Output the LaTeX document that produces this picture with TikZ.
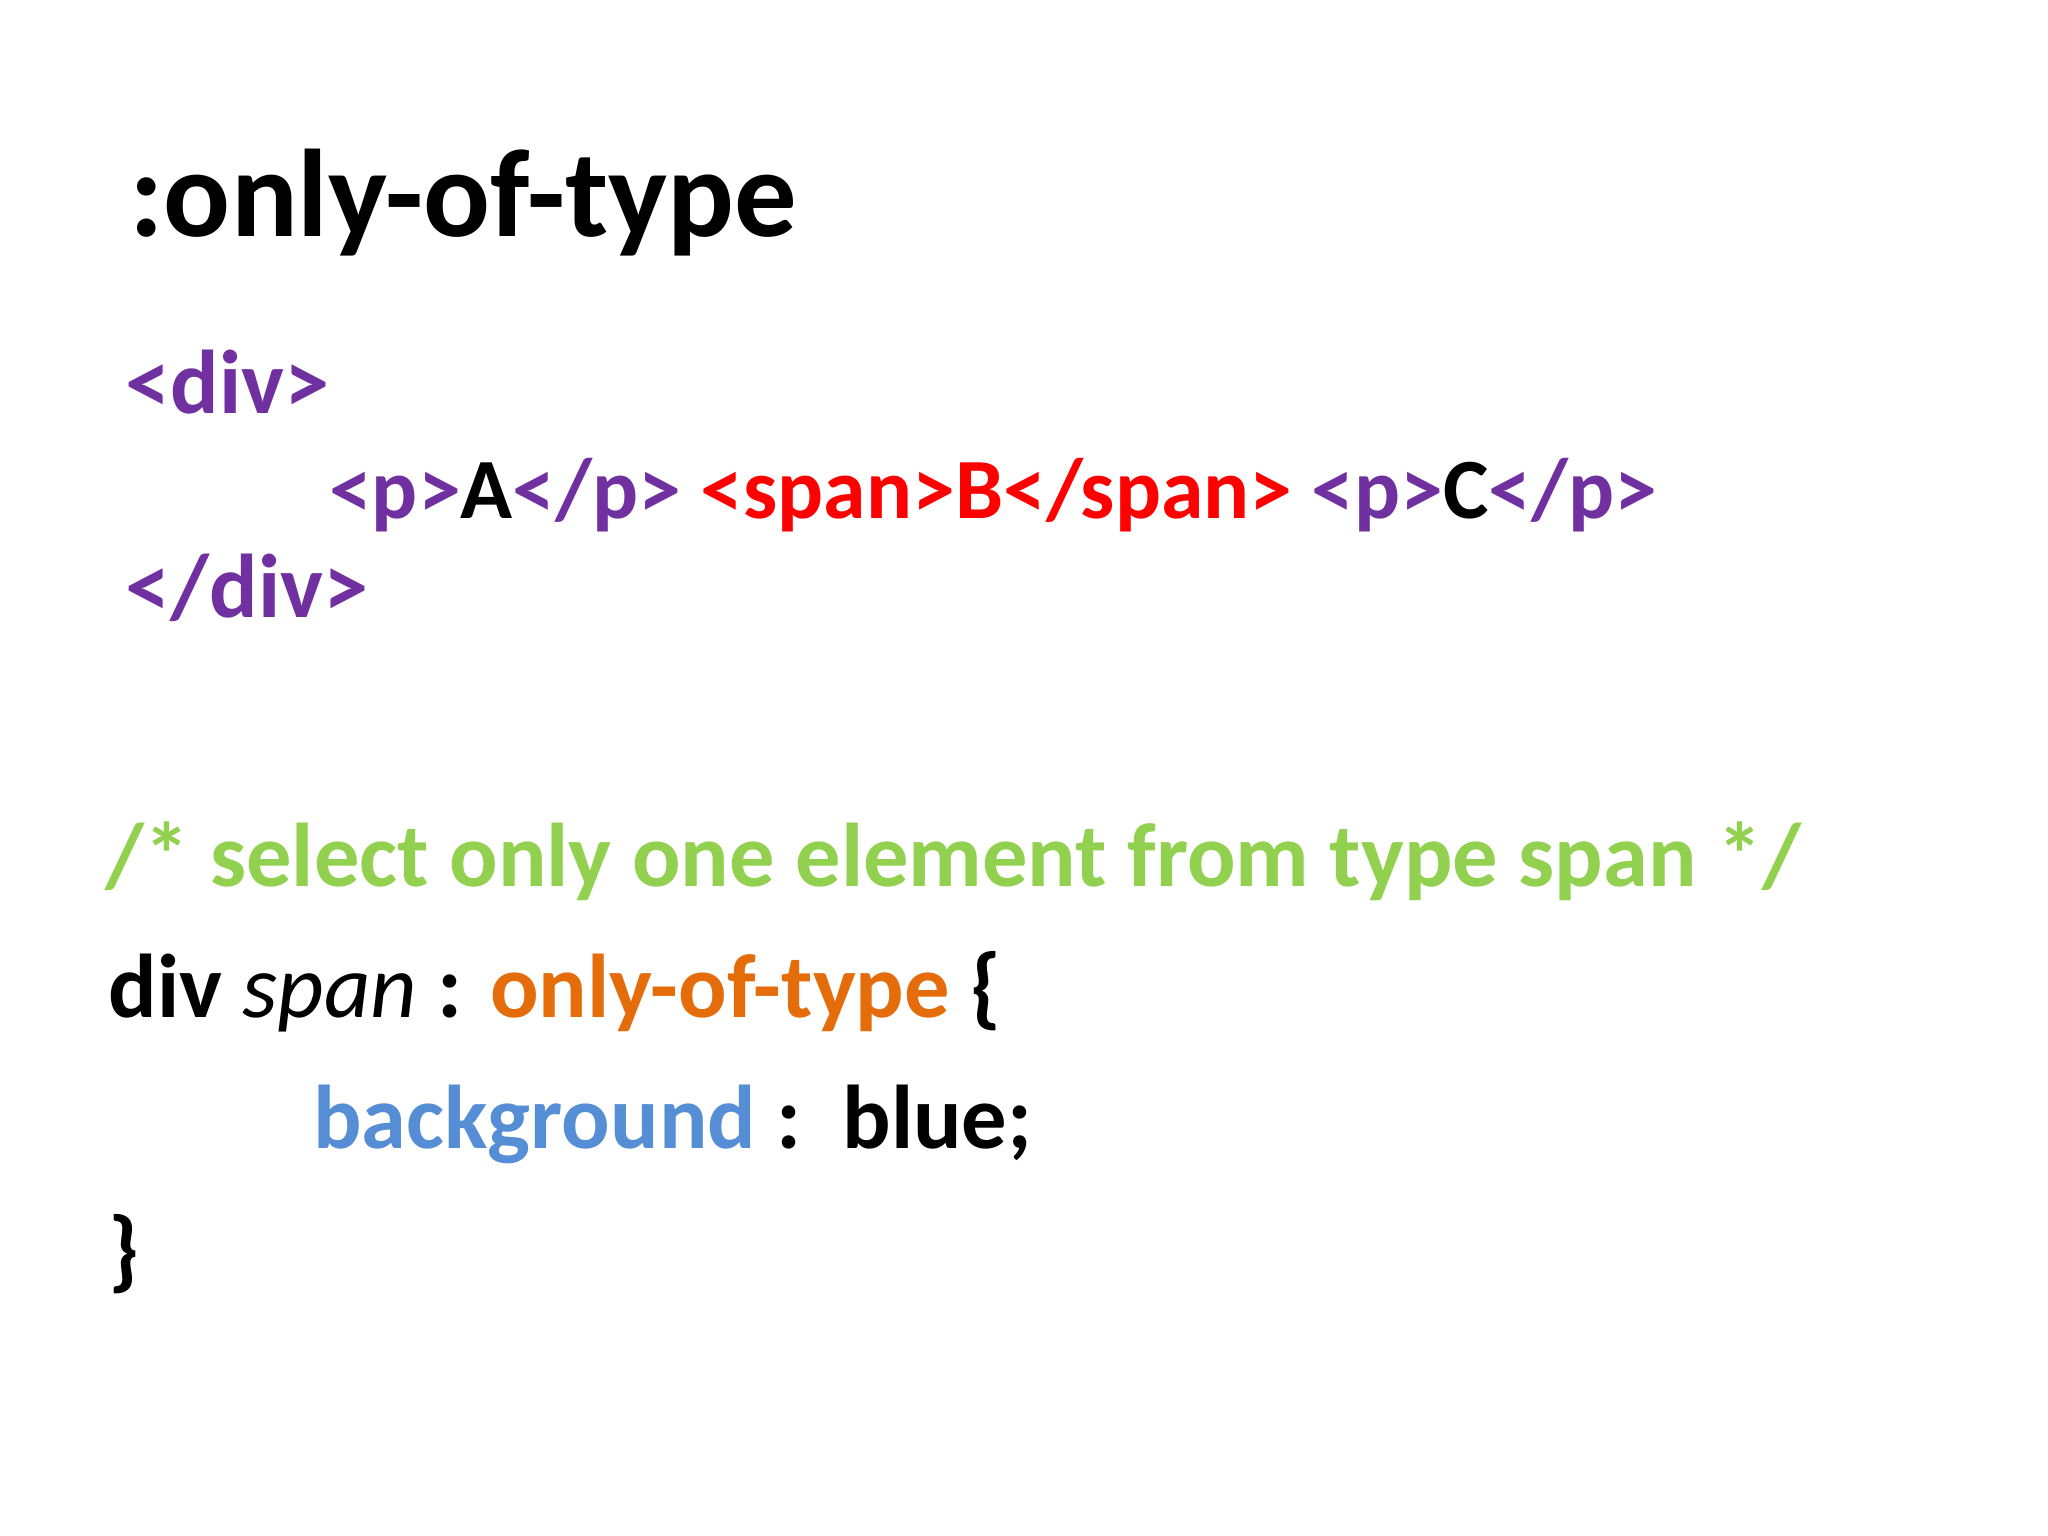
\documentclass[tikz,border=0pt]{standalone}
\usepackage{fontspec}
\setmainfont{Carlito}
\definecolor{tagpurple}{HTML}{7030A0}
\definecolor{tagred}{HTML}{FF0000}
\definecolor{cmtgreen}{HTML}{92D050}
\definecolor{selorange}{HTML}{E46C0A}
\definecolor{propblue}{HTML}{558ED5}
\begin{document}
\begin{tikzpicture}[x=0.01cm,y=-0.01cm,
  line/.style={anchor=base west,inner sep=0pt,font=\fontsize{19.6}{24}\selectfont\bfseries}]
\useasboundingbox[fill=white] (0,0) rectangle (1560,1170);
\node[anchor=base west,inner sep=0pt,font=\fontsize{27}{32}\selectfont\bfseries] (title) at (98,180) {:only-of-type};
\node[line,text=tagpurple] (divopen) at (95,315) {<div>};
\node[line,font=\fontsize{18.6}{22}\selectfont\bfseries] (pline) at (250,395) {\textcolor{tagpurple}{<p>}A\textcolor{tagpurple}{</p>} \textcolor{tagred}{<span>B</span>} \textcolor{tagpurple}{<p>}C\textcolor{tagpurple}{</p>}};
\node[line,text=tagpurple] (divclose) at (95,470) {</div>};
\node[line,text=cmtgreen] (cmt) at (80,675) {/* select only one element from type span */};
\node[line] (sel) at (82,775) {div \textmd{\itshape span} : \textcolor{selorange}{only-of-type} \{};
\node[line] (prop) at (238,875) {\textcolor{propblue}{background} :\ \ blue;};
\node[line] (close) at (82,975) {\}};
\end{tikzpicture}
\end{document}
